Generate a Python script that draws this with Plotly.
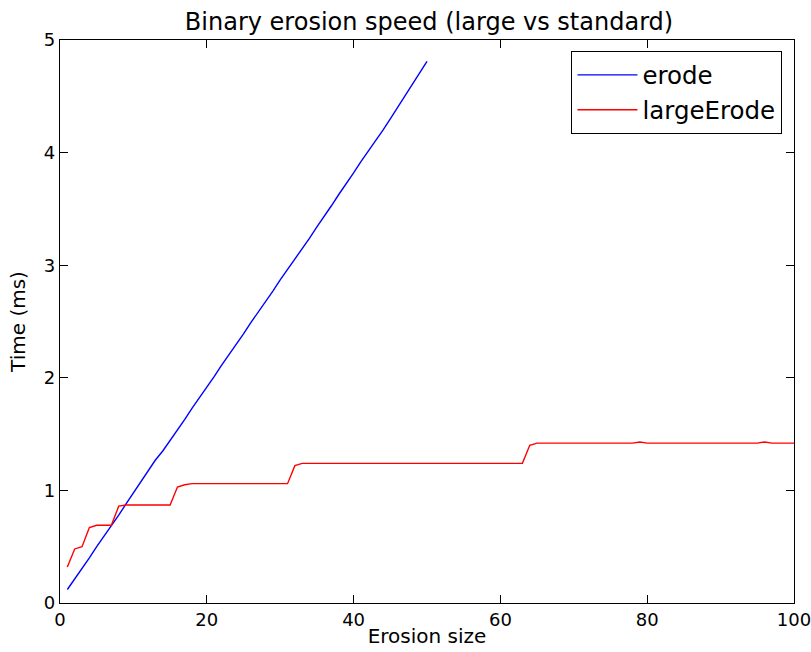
import plotly.graph_objects as go

erode_x = list(range(1, 51))
erode_y = [0.12, 0.21, 0.31, 0.40, 0.50, 0.59, 0.69, 0.78, 0.88, 0.98,
           1.07, 1.17, 1.27, 1.35, 1.44, 1.54, 1.63, 1.73, 1.82, 1.92,
           2.01, 2.11, 2.20, 2.30, 2.39, 2.49, 2.58, 2.68, 2.77, 2.87,
           2.96, 3.06, 3.15, 3.24, 3.34, 3.43, 3.53, 3.63, 3.72, 3.82,
           3.92, 4.01, 4.11, 4.20, 4.30, 4.40, 4.50, 4.60, 4.70, 4.81]

large_x = list(range(1, 101))
large_y = [0.32, 0.48, 0.50, 0.67, 0.69, 0.69, 0.69, 0.86, 0.87, 0.87,
           0.87, 0.87, 0.87, 0.87, 0.87, 1.03, 1.05, 1.06, 1.06, 1.06,
           1.06, 1.06, 1.06, 1.06, 1.06, 1.06, 1.06, 1.06, 1.06, 1.06,
           1.06, 1.22, 1.24, 1.24, 1.24, 1.24, 1.24, 1.24, 1.24, 1.24,
           1.24, 1.24, 1.24, 1.24, 1.24, 1.24, 1.24, 1.24, 1.24, 1.24,
           1.24, 1.24, 1.24, 1.24, 1.24, 1.24, 1.24, 1.24, 1.24, 1.24,
           1.24, 1.24, 1.24, 1.40, 1.42, 1.42, 1.42, 1.42, 1.42, 1.42,
           1.42, 1.42, 1.42, 1.42, 1.42, 1.42, 1.42, 1.42, 1.43, 1.42,
           1.42, 1.42, 1.42, 1.42, 1.42, 1.42, 1.42, 1.42, 1.42, 1.42,
           1.42, 1.42, 1.42, 1.42, 1.42, 1.43, 1.42, 1.42, 1.42, 1.42]

x_ticks = [0, 20, 40, 60, 80, 100]
y_ticks = [0, 1, 2, 3, 4, 5]

FONT = "DejaVu Sans"

fig = go.Figure()
fig.add_trace(go.Scatter(x=erode_x, y=erode_y, mode="lines", name="erode",
                         line=dict(color="#0000ff", width=1.4), legendgroup="a"))
fig.add_trace(go.Scatter(x=large_x, y=large_y, mode="lines", name="largeErode",
                         line=dict(color="#ff0000", width=1.4), legendgroup="b"))

axis_common = dict(showgrid=False, zeroline=False, showline=True, linecolor="black",
                   linewidth=1.2, mirror="allticks", ticks="inside", ticklen=8,
                   tickcolor="black", automargin=False, ticklabeloverflow="allow",
                   tickfont=dict(family=FONT, size=18, color="black"))

fig.update_layout(
    template="none",
    width=811, height=652,
    margin=dict(l=60, r=17, t=40, b=49, pad=0),
    paper_bgcolor="white", plot_bgcolor="white",
    title=dict(text="Binary erosion speed (large vs standard)", x=0.529, xanchor="center",
               y=0.98, yanchor="top",
               font=dict(family=FONT, size=24, color="black")),
    xaxis=dict(range=[0, 100], tickvals=x_ticks,
               title=dict(text="Erosion size", font=dict(family=FONT, size=20, color="black"), standoff=0),
               **axis_common),
    yaxis=dict(range=[0, 5], tickvals=y_ticks,
               title=dict(text="Time (ms)", font=dict(family=FONT, size=20, color="black"), standoff=12),
               **axis_common),
    legend=dict(x=0.984, y=0.98, xanchor="right", yanchor="top",
                bordercolor="black", borderwidth=1.2, bgcolor="white",
                font=dict(family=FONT, size=24.5, color="black"),
                tracegroupgap=0, itemwidth=60),
    showlegend=True,
)

fig.write_html("out.html", config={"displayModeBar": False},
               post_script="document.body.style.margin='0px';")
